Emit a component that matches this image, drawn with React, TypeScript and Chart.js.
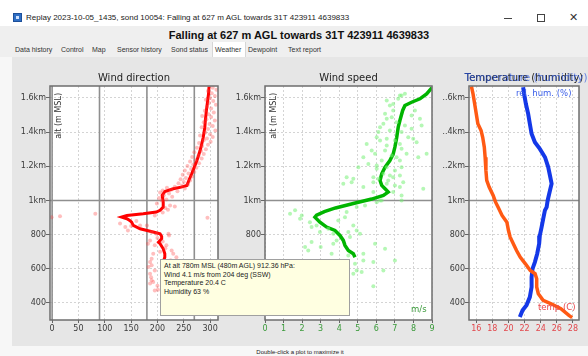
import React, { useEffect, useRef } from 'react';
import { Chart, registerables } from 'chart.js';

Chart.register(...registerables);

type Pt = [number, number];

// ---- axes / ticks ----
const altRange: Pt = [300, 1670];
const altTicks = [400, 600, 800, 1000, 1200, 1400, 1600];
const altTickLabels = ['400', '600', '800', '1km', '1.2km', '1.4km', '1.6km'];
const dirRange: Pt = [-4, 315];
const dirTicks = [0, 50, 100, 150, 200, 250, 300];
const dirRefLines = [0, 90, 180, 270];
const speedRange: Pt = [0, 9];
const speedTicks = [0, 1, 2, 3, 4, 5, 6, 7, 8, 9];
const tempRange: Pt = [15.1, 28.75];
const tempTicks = [16, 18, 20, 22, 24, 26, 28];
const humRange: Pt = [0, 100];
const altRefLines = [1000];

// ---- wind direction (deg, alt m) ----
const dirLine: Pt[] = [
  [298, 1667], [297, 1624], [295, 1575], [293, 1527], [291, 1470], [290, 1429], [287, 1370], [284, 1330],
  [281, 1292], [275, 1234], [270, 1195], [265, 1156], [260, 1120], [256, 1088], [245, 1078], [230, 1068],
  [214, 1052], [209, 1030], [210, 1010], [211, 990], [211, 961], [205, 942], [198, 932], [173, 922],
  [142, 912], [132, 903], [142, 893], [148, 882], [151, 873], [154, 854], [167, 834], [192, 815],
  [205, 805], [208, 790], [208, 776], [202, 756], [205, 747], [211, 717], [214, 688], [214, 668], [212, 650],
];
const dirPoints: Pt[] = [
  [305, 1660], [312, 1648], [296, 1640], [303, 1628], [309, 1612], [300, 1600], [292, 1590], [306, 1582],
  [298, 1570], [311, 1560], [294, 1548], [302, 1538], [290, 1525], [307, 1515], [297, 1505], [285, 1495],
  [302, 1488], [293, 1476], [309, 1468], [288, 1458], [299, 1448], [305, 1436], [284, 1428], [296, 1418],
  [310, 1410], [291, 1398], [300, 1388], [281, 1380], [305, 1372], [294, 1362], [288, 1352], [301, 1344],
  [279, 1336], [296, 1326], [285, 1318], [275, 1308], [292, 1300], [283, 1290], [270, 1282], [288, 1272],
  [278, 1262], [266, 1254], [284, 1246], [272, 1236], [262, 1228], [279, 1218], [268, 1210], [257, 1202],
  [274, 1192], [264, 1184], [252, 1176], [270, 1166], [259, 1158], [248, 1150], [266, 1140], [254, 1132],
  [244, 1124], [262, 1116], [250, 1108], [240, 1100], [258, 1094], [246, 1086], [233, 1080], [218, 1074],
  [252, 1070], [226, 1062], [210, 1058], [238, 1054], [205, 1046], [222, 1040], [212, 1030], [228, 1022],
  [203, 1014], [217, 1006], [208, 1000], [199, 982], [224, 971], [233, 965], [215, 955], [210, 930],
  [220, 945], [195, 912], [-1, 902], [15, 908], [82, 922], [295, 899], [129, 865], [139, 844],
  [144, 824], [160, 880], [150, 850], [167, 854], [180, 854], [189, 815], [198, 805], [221, 805],
  [222, 795], [200, 780], [186, 766], [182, 747], [195, 737], [217, 737], [210, 760], [227, 707],
  [215, 720], [205, 700], [230, 688], [236, 668], [192, 688], [189, 659], [186, 639], [183, 610],
  [189, 620], [225, 650], [240, 620], [195, 590], [186, 571], [188, 550], [189, 532], [192, 522],
  [186, 513], [200, 500], [195, 473], [201, 477],
];

// ---- wind speed (m/s, alt m) ----
const speedLine: Pt[] = [
  [9.0, 1660], [8.71, 1624], [8.35, 1595], [7.9, 1575], [7.54, 1556], [7.42, 1527], [7.27, 1468],
  [7.18, 1429], [7.1, 1370], [7.0, 1312], [6.91, 1273], [6.73, 1234], [6.47, 1195], [6.29, 1156],
  [6.2, 1117], [6.29, 1088], [6.47, 1068], [6.64, 1049], [6.38, 1029], [5.75, 1008], [4.76, 982],
  [3.8, 956], [3.2, 935], [2.78, 914], [2.69, 902], [2.96, 873], [3.32, 844], [3.77, 824],
  [4.04, 795], [4.22, 766], [4.31, 737], [4.49, 707], [4.76, 688], [4.85, 668],
];
const speedPoints: Pt[] = [
  [7.27, 1614], [7.54, 1624], [6.91, 1565], [6.73, 1556], [8.08, 1527], [7.9, 1497], [8.35, 1478],
  [8.44, 1439], [6.47, 1507], [6.38, 1449], [6.2, 1429], [6.11, 1400], [6.02, 1370], [6.73, 1409],
  [7.36, 1400], [7.72, 1370], [7.99, 1361], [8.17, 1341], [5.48, 1331], [5.75, 1292], [5.93, 1273],
  [6.56, 1322], [7.36, 1302], [7.63, 1273], [8.26, 1253], [8.71, 1273], [5.3, 1253], [5.03, 1195],
  [5.57, 1214], [6.02, 1205], [6.56, 1195], [7.0, 1175], [7.36, 1195], [7.27, 1146], [6.73, 1146],
  [6.38, 1156], [4.4, 1136], [4.76, 1127], [4.22, 1098], [5.84, 1107], [6.56, 1098], [7.0, 1088],
  [7.45, 1107], [5.3, 1078], [5.84, 1049], [6.91, 1049], [7.36, 1029], [8.53, 1068], [6.2, 1000],
  [7.36, 1614], [7.18, 1595], [6.56, 1585], [6.91, 1526], [6.83, 1487], [6.56, 1478], [7.09, 1458],
  [7.54, 1439], [7.9, 1419], [6.2, 1351], [7.0, 1351], [6.56, 1361], [7.27, 1331], [6.47, 1292],
  [6.83, 1263], [7.09, 1253], [6.29, 1234], [7.27, 1234], [6.02, 1185], [6.91, 1136], [6.11, 1127],
  [6.64, 1117], [4.67, 1107], [5.84, 1136], [7.27, 1078],
  [1.35, 922], [1.62, 942], [1.89, 893], [1.98, 912], [2.42, 873], [2.51, 844], [2.78, 854],
  [2.96, 815], [3.41, 834], [3.68, 805], [3.95, 883], [4.31, 902], [4.4, 932], [4.94, 961],
  [5.39, 971], [6.02, 990], [6.29, 1000], [7.36, 1000], [4.76, 854], [4.94, 824], [5.12, 805],
  [4.49, 815], [4.58, 786], [3.86, 766], [3.68, 747], [2.16, 727], [2.51, 756], [2.33, 707],
  [3.0, 727], [3.59, 688], [4.49, 678], [5.3, 688], [5.93, 747], [6.47, 717], [5.84, 639],
  [5.3, 649], [7.0, 649], [4.94, 590], [5.21, 581], [6.38, 590], [4.76, 571], [5.84, 497], [4.85, 629],
];

// ---- temperature (C, alt m) and humidity (%, alt m) ----
const tempLine: Pt[] = [
  [15.4, 1668], [15.6, 1624], [15.8, 1566], [16.0, 1507], [16.2, 1449], [16.6, 1409], [16.8, 1370],
  [17.0, 1312], [17.1, 1253], [17.2, 1175], [17.3, 1117], [17.6, 1078], [18.1, 1029], [18.4, 990],
  [18.7, 961], [19.2, 912], [19.8, 873], [20.0, 824], [20.2, 786], [20.6, 747], [21.0, 707],
  [21.45, 668], [22.1, 629], [22.7, 590], [23.3, 571], [23.5, 542], [23.5, 493], [23.7, 454],
  [24.3, 415], [25.3, 395], [26.5, 366], [27.5, 327], [27.9, 314],
];
const humLine: Pt[] = [
  [49.2, 1663], [50.1, 1624], [51.7, 1566], [53.8, 1507], [55.3, 1449], [56.9, 1390], [59.9, 1341],
  [64.4, 1302], [69.1, 1253], [72.0, 1195], [73.6, 1146], [75.1, 1098], [73.6, 1058], [71.5, 1000],
  [70.6, 961], [69.0, 942], [67.5, 893], [66.0, 844], [64.4, 795], [63.8, 747], [62.0, 688],
  [59.9, 639], [57.8, 601], [56.9, 551], [56.9, 493], [55.3, 434], [52.3, 386], [48.7, 357], [46.2, 318],
];

// ---- texts ----
const windowTitle = 'Replay 2023-10-05_1435, sond 10054: Falling at 627 m AGL towards 31T 423911 4639833';
const headerText = 'Falling at 627 m AGL towards 31T 423911 4639833';
const tabs: [string, number][] = [
  ['Data history', 15], ['Control', 61], ['Map', 92], ['Sensor history', 117], ['Sond status', 171],
  ['Weather', 215], ['Dewpoint', 248], ['Text report', 288],
];
const tooltipLines = [
  'At alt 780m MSL (480m AGL) 912.36 hPa:',
  'Wind 4.1 m/s from 204 deg (SSW)',
  'Temperature 20.4 C',
  'Humidity 63 %',
];
const footerText = 'Double-click a plot to maximize it';

const FONT = '"DejaVu Sans", sans-serif';
const UI = '"Liberation Sans", Arial, sans-serif';

const toXY = (a: Pt[]) => a.map(([x, y]) => ({ x, y }));

type Lbl = { text: string; color: string; x: number; y: number; ref: 'lt' | 'rb' | 'lb' };
type FrameOpts = {
  title: string;
  overlayTitle?: string;
  vLines?: number[];
  hLines?: number[];
  altLabel?: boolean;
  labels?: Lbl[];
};

function framePlugin(o: FrameOpts) {
  return {
    id: 'frame',
    beforeDraw(chart: any) {
      const { ctx, chartArea: a } = chart;
      ctx.save();
      ctx.fillStyle = '#ffffff';
      ctx.fillRect(a.left, a.top, a.right - a.left, a.bottom - a.top);
      ctx.restore();
    },
    beforeDatasetsDraw(chart: any) {
      const { ctx, chartArea: a, scales } = chart;
      ctx.save();
      ctx.strokeStyle = '#8f8f8f';
      ctx.lineWidth = 1.6;
      (o.vLines || []).forEach((v) => {
        const x = scales.x.getPixelForValue(v);
        ctx.beginPath();
        ctx.moveTo(x, a.top);
        ctx.lineTo(x, a.bottom);
        ctx.stroke();
      });
      (o.hLines || []).forEach((v) => {
        const y = scales.y.getPixelForValue(v);
        ctx.beginPath();
        ctx.moveTo(a.left, y);
        ctx.lineTo(a.right, y);
        ctx.stroke();
      });
      ctx.restore();
    },
    afterDatasetsDraw(chart: any) {
      const { ctx, chartArea: a } = chart;
      ctx.save();
      ctx.strokeStyle = '#6e6e6e';
      ctx.lineWidth = 1.5;
      ctx.strokeRect(a.left, a.top, a.right - a.left, a.bottom - a.top);
      const cx = (a.left + a.right) / 2;
      ctx.textBaseline = 'middle';
      ctx.textAlign = 'center';
      ctx.font = `10px ${FONT}`;
      ctx.fillStyle = '#222';
      ctx.fillText(o.title, cx, a.top - 8);
      if (o.overlayTitle) {
        ctx.globalAlpha = 0.7;
        ctx.fillStyle = '#2a55e0';
        ctx.font = `10.4px ${FONT}`;
        ctx.fillText(o.overlayTitle, cx + 2, a.top - 8);
        ctx.globalAlpha = 1;
      }
      if (o.altLabel) {
        ctx.save();
        ctx.translate(a.left + 9, a.top + 7);
        ctx.rotate(-Math.PI / 2);
        ctx.textAlign = 'right';
        ctx.font = `8px ${FONT}`;
        ctx.fillStyle = '#333';
        ctx.fillText('alt (m MSL)', 0, 0);
        ctx.restore();
      }
      (o.labels || []).forEach((l) => {
        ctx.font = `8.5px ${FONT}`;
        ctx.fillStyle = l.color;
        ctx.textAlign = 'left';
        const x = l.ref === 'rb' ? a.right + l.x : a.left + l.x;
        const y = l.ref === 'lt' ? a.top + l.y : a.bottom + l.y;
        ctx.fillText(l.text, x, y);
      });
      ctx.restore();
    },
  };
}

function yScale(width: number) {
  return {
    type: 'linear',
    min: altRange[0],
    max: altRange[1],
    afterBuildTicks: (s: any) => {
      s.ticks = altTicks.map((v) => ({ value: v }));
    },
    afterFit: (s: any) => {
      s.width = width;
    },
    ticks: {
      padding: 0,
      color: '#3a3a3a',
      font: { family: FONT, size: 8 },
      callback: (v: number) => altTickLabels[altTicks.indexOf(v)] ?? '',
    },
    grid: { color: '#d4d4d4', lineWidth: 1, tickLength: 4, tickColor: '#666' },
    border: { display: false, dash: [2, 2] },
  };
}

function xScale(range: Pt, ticks: number[], color: string, height: number) {
  return {
    type: 'linear',
    min: range[0],
    max: range[1],
    afterBuildTicks: (s: any) => {
      s.ticks = ticks.map((v) => ({ value: v }));
    },
    afterFit: (s: any) => {
      s.height = height;
    },
    ticks: {
      padding: 1,
      color,
      maxRotation: 0,
      autoSkip: false,
      font: { family: FONT, size: 8 },
      callback: (v: number) => String(v),
    },
    grid: { color: '#d4d4d4', lineWidth: 1, tickLength: 3, tickColor: '#666' },
    border: { display: false, dash: [2, 2] },
  };
}

const baseOptions = (padding: any, scales: any, plugins: any = {}) => ({
  responsive: false,
  animation: false,
  devicePixelRatio: 1,
  layout: { padding },
  scales,
  plugins: { legend: { display: false }, tooltip: { enabled: false }, title: { display: false }, ...plugins },
  events: [],
});

export default function App() {
  const c1 = useRef<HTMLCanvasElement>(null);
  const c2 = useRef<HTMLCanvasElement>(null);
  const c3 = useRef<HTMLCanvasElement>(null);

  useEffect(() => {
    const charts: Chart[] = [];
    const ch1 = new Chart(c1.current as HTMLCanvasElement, {
      type: 'scatter',
      data: {
        datasets: [
          {
            data: toXY(dirPoints),
            pointRadius: 2,
            pointBorderWidth: 0,
            backgroundColor: 'rgba(255,70,70,0.35)',
            showLine: false,
          },
          {
            data: toXY(dirLine),
            showLine: true,
            pointRadius: 0,
            borderColor: '#ff0000',
            borderWidth: 3,
            tension: 0,
          },
        ],
      },
      options: baseOptions(
        { left: 0, right: 6, top: 26, bottom: 0 },
        { x: xScale(dirRange, dirTicks, '#3a3a3a', 25), y: yScale(38) }
      ) as any,
      plugins: [framePlugin({ title: 'Wind direction', vLines: dirRefLines, hLines: altRefLines, altLabel: true })],
    });
    charts.push(ch1);

    const ch2 = new Chart(c2.current as HTMLCanvasElement, {
      type: 'scatter',
      data: {
        datasets: [
          {
            data: toXY(speedPoints),
            pointRadius: 2,
            pointBorderWidth: 0,
            backgroundColor: 'rgba(120,240,120,0.55)',
            showLine: false,
          },
          {
            data: toXY(speedLine),
            showLine: true,
            pointRadius: 0,
            borderColor: '#00b400',
            borderWidth: 3.5,
            tension: 0,
          },
        ],
      },
      options: baseOptions(
        { left: 0, right: 8, top: 26, bottom: 0 },
        { x: xScale(speedRange, speedTicks, '#3a9a3a', 25), y: yScale(41) }
      ) as any,
      plugins: [
        framePlugin({
          title: 'Wind speed',
          hLines: altRefLines,
          altLabel: true,
          labels: [{ text: 'm/s', color: '#3a9a3a', x: -21, y: -10, ref: 'rb' }],
        }),
      ],
    });
    charts.push(ch2);

    const ch3 = new Chart(c3.current as HTMLCanvasElement, {
      type: 'scatter',
      data: {
        datasets: [
          {
            data: toXY(tempLine),
            showLine: true,
            pointRadius: 0,
            borderColor: '#ff5a14',
            borderWidth: 3.5,
            tension: 0,
            xAxisID: 'x',
          },
          {
            data: toXY(humLine),
            showLine: true,
            pointRadius: 0,
            borderColor: '#1438e8',
            borderWidth: 4,
            tension: 0,
            xAxisID: 'xh',
          },
        ],
      },
      options: baseOptions(
        { left: 0, right: 9, top: 26, bottom: 0 },
        {
          x: xScale(tempRange, tempTicks, '#e2474c', 25),
          xh: { type: 'linear', min: humRange[0], max: humRange[1], display: false },
          y: yScale(41),
        }
      ) as any,
      plugins: [
        framePlugin({
          title: 'Temperature (humidity)',
          overlayTitle: 'Temperature (humidity)',
          hLines: altRefLines,
          labels: [
            { text: 'rel. hum. (%)', color: '#3a5ee8', x: 47, y: 8, ref: 'lt' },
            { text: 'temp (C)', color: '#e8474c', x: -41, y: -12, ref: 'rb' },
          ],
        }),
      ],
    });
    charts.push(ch3);

    return () => charts.forEach((c) => c.destroy());
  }, []);

  const abs = (l: number, t: number, extra: React.CSSProperties = {}): React.CSSProperties => ({
    position: 'absolute',
    left: l,
    top: t,
    ...extra,
  });

  return (
    <div style={{ position: 'absolute', left: 0, top: 0, width: 588, height: 356, overflow: 'hidden', background: '#f7f7f7', fontFamily: UI }}>
      {/* title bar */}
      <div style={abs(0, 0, { width: 588, height: 26, background: '#ffffff' })} />
      <div style={abs(13, 13, { width: 9, height: 9, background: '#2f6fc4', border: '1px solid #1d4f9a', boxSizing: 'border-box' })}>
        <div style={abs(2, 2, { width: 3, height: 3, background: '#cfe2ff' })} />
      </div>
      <div style={abs(26, 12, { fontSize: 8, color: '#222', whiteSpace: 'nowrap', lineHeight: '12px' })}>{windowTitle}</div>
      <div style={abs(504, 18, { width: 8, height: 1, background: '#444' })} />
      <div style={abs(537, 14, { width: 8, height: 8, border: '1px solid #444', boxSizing: 'border-box' })} />
      <div style={abs(569, 11, { fontSize: 11, color: '#333', lineHeight: '14px', fontFamily: FONT })}>✕</div>

      {/* header */}
      <div style={abs(0, 26, { width: 588, height: 17, background: '#efefef' })} />
      <div style={abs(10, 28, { width: 578, textAlign: 'center', fontSize: 11, fontWeight: 'bold', color: '#111', lineHeight: '14px', whiteSpace: 'nowrap' })}>
        {headerText}
      </div>

      {/* tabs */}
      <div style={abs(0, 43, { width: 588, height: 14, background: '#efefef' })} />
      <div style={abs(212, 42, { width: 34, height: 15, background: '#ffffff', borderLeft: '1px solid #d6d6d6', borderRight: '1px solid #d6d6d6', boxSizing: 'border-box' })} />
      {tabs.map(([t, x]) => (
        <div key={t} style={abs(x, 44, { fontSize: 7, color: '#333', lineHeight: '11px', whiteSpace: 'nowrap' })}>
          {t}
        </div>
      ))}

      {/* plot panel */}
      <div style={abs(12, 57, { width: 576, height: 289, background: '#e6e6e6' })} />

      <canvas ref={c1} width={212} height={285} style={abs(12, 60)} />
      <canvas ref={c2} width={216} height={285} style={abs(224, 60)} />
      <div style={abs(443, 60, { width: 145, height: 285, overflow: 'hidden' })}>
        <canvas ref={c3} width={160} height={285} style={abs(-15, 0)} />
      </div>

      {/* hover info box */}
      <div
        style={abs(160, 259, {
          width: 190,
          height: 57,
          background: '#ffffe1',
          border: '1px solid #a0a0a0',
          boxSizing: 'border-box',
          fontSize: 7,
          lineHeight: '8.5px',
          padding: '2px 0 0 3px',
          color: '#222',
          whiteSpace: 'nowrap',
        })}
      >
        {tooltipLines.map((l) => (
          <div key={l}>{l}</div>
        ))}
      </div>

      {/* footer */}
      <div style={abs(200, 348, { width: 200, textAlign: 'center', fontSize: 6, color: '#222', lineHeight: '8px' })}>{footerText}</div>
    </div>
  );
}
